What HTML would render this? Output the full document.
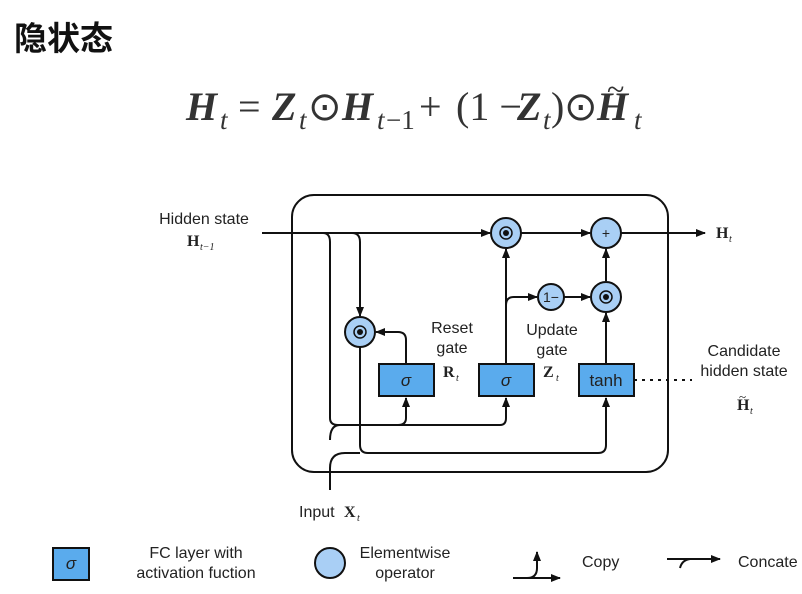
<!DOCTYPE html>
<html><head><meta charset="utf-8"><style>
html,body{margin:0;padding:0;background:#fff;}
body{width:802px;height:594px;overflow:hidden;position:relative;}
</style></head><body>
<svg width="802" height="594" viewBox="0 0 802 594" xmlns="http://www.w3.org/2000/svg" style="position:absolute;left:0;top:0">
<defs>
<marker id="a" markerWidth="10" markerHeight="8" refX="9" refY="4" orient="auto" markerUnits="userSpaceOnUse">
<path d="M0,0 L10,4 L0,8 Z" fill="#111"/></marker>
</defs>
<text x="14" y="50" font-family="'Noto Sans CJK SC',sans-serif" font-weight="bold" font-size="33" fill="#111">隐状态</text>
<g font-family="'Liberation Serif',serif" fill="#333" font-size="40">
<text x="186" y="120" font-weight="bold" font-style="italic">H</text>
<text x="220" y="129" font-style="italic" font-size="27">t</text>
<text x="238" y="120">=</text>
<text x="272" y="120" font-weight="bold" font-style="italic">Z</text>
<text x="299" y="129" font-style="italic" font-size="27">t</text>
<text x="308" y="120">⊙</text>
<text x="342" y="120" font-weight="bold" font-style="italic">H</text>
<text x="377" y="129" font-style="italic" font-size="27">t</text>
<text x="386" y="129" font-size="27">−1</text>
<text x="419" y="120">+</text>
<text x="456" y="120">(1 −</text>
<text x="517" y="120" font-weight="bold" font-style="italic">Z</text>
<text x="543" y="129" font-style="italic" font-size="27">t</text>
<text x="551" y="120">)</text>
<text x="564" y="120">⊙</text>
<text x="597" y="120" font-weight="bold" font-style="italic">H</text>
<text x="607" y="100" font-size="32">~</text>
<text x="634" y="129" font-style="italic" font-size="27">t</text>
</g>
<g fill="none" stroke="#111" stroke-width="2">
<rect x="292" y="195" width="376" height="277" rx="22"/>
<line x1="262" y1="233" x2="490" y2="233" marker-end="url(#a)"/>
<line x1="521" y1="233" x2="590" y2="233" marker-end="url(#a)"/>
<line x1="621" y1="233" x2="705" y2="233" marker-end="url(#a)"/>
<path d="M323,233 Q330,233 330,242 L330,418 Q330,425 338,425 L500,425 Q506,425 506,418 L506,398" marker-end="url(#a)"/>
<path d="M398,425 Q406,425 406,418 L406,398" marker-end="url(#a)"/>
<path d="M352,233 Q360,233 360,242 L360,316" marker-end="url(#a)"/>
<path d="M360,347 L360,445 Q360,453 368,453 L598,453 Q606,453 606,445 L606,398" marker-end="url(#a)"/>
<path d="M330,490 L330,468 Q330,453 345,453 L360,453"/>
<path d="M330,440 Q330,425 340,425"/>
<path d="M406,364 L406,340 Q406,332 398,332 L376,332" marker-end="url(#a)"/>
<line x1="506" y1="364" x2="506" y2="249" marker-end="url(#a)"/>
<path d="M506,305 Q506,297 514,297 L537,297" marker-end="url(#a)"/>
<line x1="564" y1="297" x2="590" y2="297" marker-end="url(#a)"/>
<line x1="606" y1="364" x2="606" y2="313" marker-end="url(#a)"/>
<line x1="606" y1="281" x2="606" y2="249" marker-end="url(#a)"/>
<line x1="634" y1="380" x2="692" y2="380" stroke-dasharray="3,5"/>
</g>
<g stroke="#111" stroke-width="2" fill="#a9cff5">
<circle cx="506" cy="233" r="15"/><circle cx="606" cy="233" r="15"/>
<circle cx="551" cy="297" r="13"/><circle cx="606" cy="297" r="15"/>
<circle cx="360" cy="332" r="15"/>
</g>
<g fill="#111"><circle cx="506" cy="233" r="3"/><circle cx="606" cy="297" r="3"/><circle cx="360" cy="332" r="3"/></g>
<g fill="none" stroke="#111" stroke-width="1.5"><circle cx="506" cy="233" r="6"/><circle cx="606" cy="297" r="6"/><circle cx="360" cy="332" r="6"/></g>
<g stroke="#111" stroke-width="2" fill="#5aabed">
<rect x="379" y="364" width="55" height="32"/><rect x="479" y="364" width="55" height="32"/><rect x="579" y="364" width="55" height="32"/>
<rect x="53" y="548" width="36" height="32"/>
</g>
<circle cx="330" cy="563" r="15" fill="#a9cff5" stroke="#111" stroke-width="2"/>
<g font-family="'Liberation Sans',sans-serif" fill="#222" font-size="16" text-anchor="middle">
<text x="606" y="238" font-size="14">+</text>
<text x="551" y="302" font-size="14">1−</text>
<text x="406" y="386" font-style="italic" font-size="17">σ</text>
<text x="506" y="386" font-style="italic" font-size="17">σ</text>
<text x="606" y="386" font-size="17">tanh</text>
<text x="71" y="569" font-style="italic" font-size="17">σ</text>
<text x="452" y="333">Reset</text><text x="452" y="353">gate</text>
<text x="552" y="335">Update</text><text x="552" y="355">gate</text>
<text x="744" y="356">Candidate</text><text x="744" y="376">hidden state</text>
<text x="204" y="224">Hidden state</text>
<text x="196" y="558">FC layer with</text><text x="196" y="578">activation fuction</text>
<text x="405" y="558">Elementwise</text><text x="405" y="578">operator</text>
</g>
<g font-family="'Liberation Sans',sans-serif" fill="#222" font-size="16">
<text x="299" y="517">Input</text>
<text x="582" y="567">Copy</text>
<text x="738" y="567">Concate</text>
</g>
<g font-family="'Liberation Serif',serif" font-weight="bold" fill="#222" font-size="16">
<text x="187" y="246">H</text><text x="200" y="250" font-size="10" font-style="italic" font-weight="normal">t−1</text>
<text x="716" y="238">H</text><text x="729" y="242" font-size="10" font-style="italic" font-weight="normal">t</text>
<text x="443" y="377">R</text><text x="456" y="381" font-size="10" font-style="italic" font-weight="normal">t</text>
<text x="543" y="377">Z</text><text x="556" y="381" font-size="10" font-style="italic" font-weight="normal">t</text>
<text x="737" y="410">H</text><text x="739" y="401" font-size="13" font-weight="normal">~</text><text x="750" y="414" font-size="10" font-style="italic" font-weight="normal">t</text>
<text x="344" y="517">X</text><text x="357" y="521" font-size="10" font-style="italic" font-weight="normal">t</text>
</g>
<g fill="none" stroke="#111" stroke-width="2">
<path d="M513,578 L560,578" marker-end="url(#a)"/>
<path d="M527,578 Q537,578 537,568 L537,552" marker-end="url(#a)"/>
<path d="M667,559 L720,559" marker-end="url(#a)"/>
<path d="M680,568 Q682,560 690,559"/>
</g>
</svg>
</body></html>
